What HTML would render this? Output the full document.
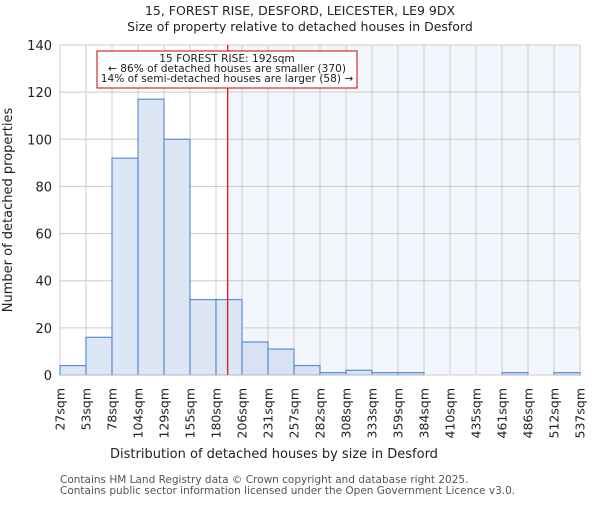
<!DOCTYPE html>
<html><head><meta charset="utf-8"><style>
body{margin:0;background:#fff;}
svg text{font-family:"DejaVu Sans","Liberation Sans",sans-serif;fill:#222;}
</style></head><body>
<svg id="chart" width="600" height="500" viewBox="0 0 600 500">
<text x="300" y="15" font-size="12.5" text-anchor="middle">15, FOREST RISE, DESFORD, LEICESTER, LE9 9DX</text>
<text x="300" y="31" font-size="12.5" text-anchor="middle">Size of property relative to detached houses in Desford</text>
<g id="plot"></g>
<text x="274" y="458" font-size="13" text-anchor="middle">Distribution of detached houses by size in Desford</text>
<text transform="translate(12,210) rotate(-90)" font-size="13" text-anchor="middle">Number of detached properties</text>
<text x="60" y="483" font-size="10.5" style="fill:#555">Contains HM Land Registry data © Crown copyright and database right 2025.</text>
<text x="60" y="494" font-size="10.5" style="fill:#555">Contains public sector information licensed under the Open Government Licence v3.0.</text>
</svg>
<script>
const binLabels=["27sqm","53sqm","78sqm","104sqm","129sqm","155sqm","180sqm","206sqm","231sqm","257sqm","282sqm","308sqm","333sqm","359sqm","384sqm","410sqm","435sqm","461sqm","486sqm","512sqm","537sqm"];
const counts=[4,16,92,117,100,32,32,14,11,4,1,2,1,1,0,0,0,1,0,1];
const yTicks=[0,20,40,60,80,100,120,140];
const markerBin=6.45;
const NS="http://www.w3.org/2000/svg";
const L=60,R=580,T=45,B=375,yMax=140;
const nb=counts.length,bw=(R-L)/nb;
const xs=i=>L+i*bw, ys=v=>B-(v/yMax)*(B-T);
const g=document.getElementById('plot');
function mk(t,a){const e=document.createElementNS(NS,t);for(const k in a)e.setAttribute(k,a[k]);g.appendChild(e);return e;}
const mx=xs(markerBin);
let e=mk('rect',{x:mx,y:T,width:R-mx,height:B-T,fill:'#f3f6fd'});


yTicks.forEach(v=>{
 let l=mk('line',{x1:L,x2:R,y1:ys(v),y2:ys(v),stroke:'#ccc','stroke-width':1});
 
 
 let t=mk('text',{x:L-8,y:ys(v)+5,'font-size':13,'text-anchor':'end'});t.textContent=v;
 
 
});
binLabels.forEach((s,i)=>{
 let l=mk('line',{x1:xs(i),x2:xs(i),y1:T,y2:B,stroke:'#ccc','stroke-width':1});
 
 
 let t=mk('text',{transform:`translate(${xs(i)+4.5},388) rotate(-90)`,'font-size':12.5,'text-anchor':'end'});t.textContent=s;
 
 
});
counts.forEach((v,i)=>{
 let r=mk('rect',{x:xs(i),y:ys(v),width:bw,height:B-ys(v),fill:xs(i)>=mx?'#d8e2f3':'#dce6f4',stroke:'#5b8fd6','stroke-width':1.2});
 
 
});
let ax=mk('line',{x1:L,x2:R,y1:B,y2:B,stroke:'#ccc','stroke-width':1});


let ml=mk('line',{x1:mx,x2:mx,y1:T,y2:B,stroke:'#e00','stroke-width':1.2});


let box=mk('rect',{x:97,y:51,width:260,height:37,fill:'#fff',stroke:'#c00','stroke-width':1});


["15 FOREST RISE: 192sqm","← 86% of detached houses are smaller (370)","14% of semi-detached houses are larger (58) →"].forEach((s,i)=>{
 let t=mk('text',{x:227,y:62+i*10,'font-size':10.6,'text-anchor':'middle'});t.textContent=s;
 
 
});
</script>
</body></html>
